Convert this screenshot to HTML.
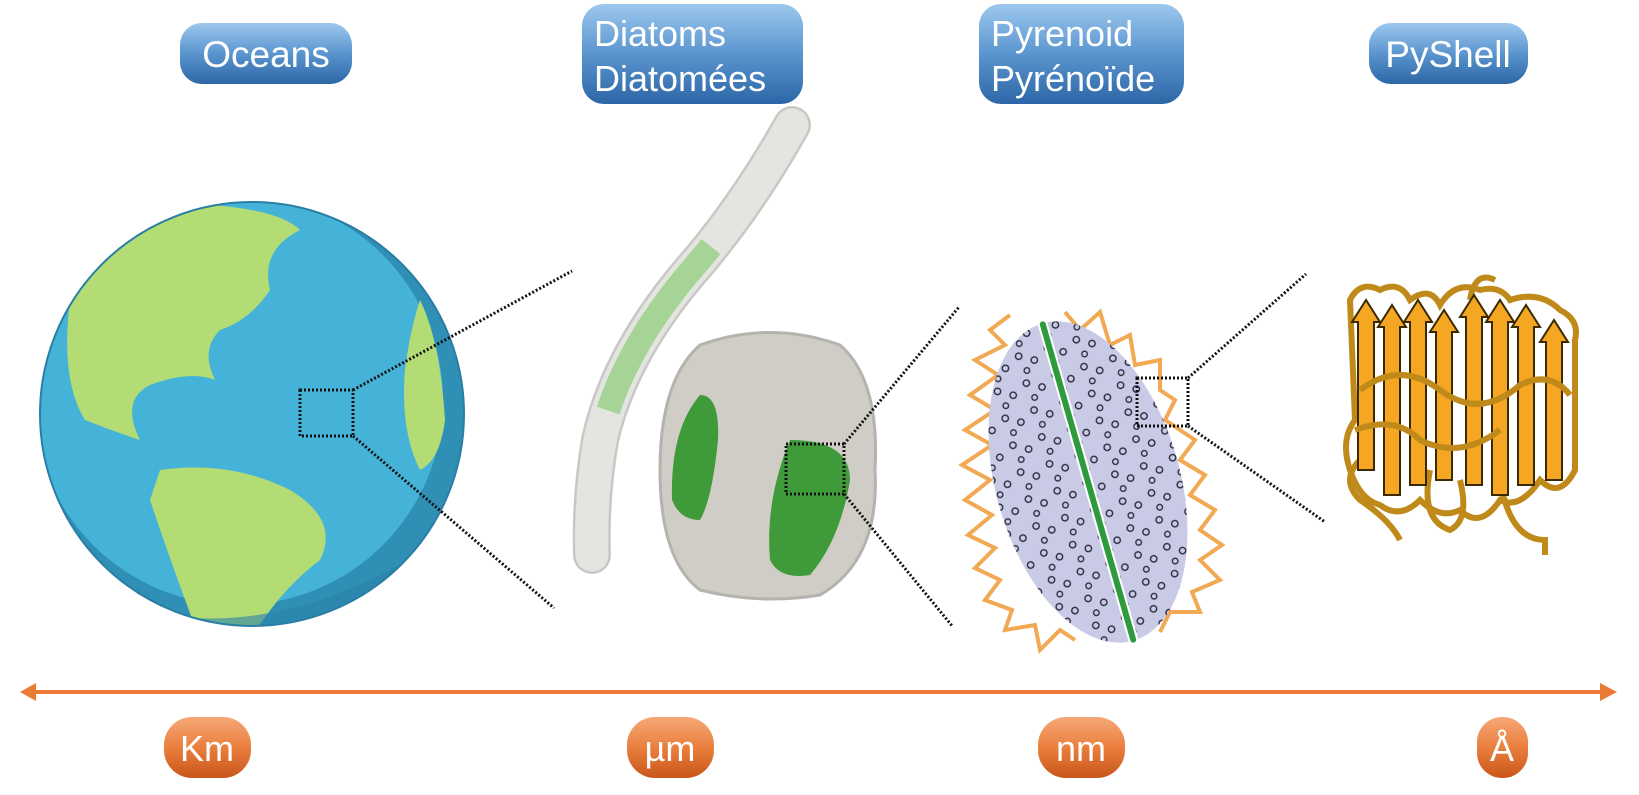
<!DOCTYPE html>
<html><head><meta charset="utf-8"><style>
html,body{margin:0;padding:0;background:#fff;}
svg{display:block;}
text{font-family:"Liberation Sans",sans-serif;fill:#fff;}
</style></head><body>
<svg width="1639" height="795" viewBox="0 0 1639 795" xmlns="http://www.w3.org/2000/svg">
<defs>
<linearGradient id="bl" x1="0" y1="0" x2="0" y2="1"><stop offset="0" stop-color="#9cc8ee"/><stop offset="0.5" stop-color="#5b95cf"/><stop offset="1" stop-color="#2d66a6"/></linearGradient>
<linearGradient id="or" x1="0" y1="0" x2="0" y2="1"><stop offset="0" stop-color="#f6a877"/><stop offset="0.5" stop-color="#ea7f3e"/><stop offset="1" stop-color="#c9561a"/></linearGradient>
<pattern id="dots" width="30" height="28" patternUnits="userSpaceOnUse">
<circle cx="6" cy="6" r="3.2" fill="none" stroke="#2a2a3a" stroke-width="1.4"/>
<circle cx="20" cy="14" r="3.2" fill="none" stroke="#2a2a3a" stroke-width="1.4"/>
<circle cx="10" cy="22" r="2.8" fill="none" stroke="#2a2a3a" stroke-width="1.3"/>
</pattern>
<clipPath id="gc"><circle cx="252" cy="414" r="212"/></clipPath>
</defs>

<rect x="180" y="23" width="172" height="61" rx="22" fill="url(#bl)"/>
<text x="266" y="67" font-size="37" text-anchor="middle">Oceans</text>
<rect x="582" y="4" width="221" height="100" rx="22" fill="url(#bl)"/>
<text x="594" y="46" font-size="36">Diatoms</text>
<text x="594" y="91" font-size="36">Diatomées</text>
<rect x="979" y="4" width="205" height="100" rx="22" fill="url(#bl)"/>
<text x="991" y="46" font-size="36">Pyrenoid</text>
<text x="991" y="91" font-size="36">Pyrénoïde</text>
<rect x="1369" y="23" width="159" height="61" rx="22" fill="url(#bl)"/>
<text x="1448" y="67" font-size="37" text-anchor="middle">PyShell</text>

<circle cx="252" cy="414" r="212" fill="#2f8fb5"/>
<g clip-path="url(#gc)">
<circle cx="238" cy="400" r="205" fill="#45b3d8"/>
<path d="M70 300 Q120 220 210 205 Q280 210 300 230 Q260 250 270 290 Q250 320 220 330 Q200 350 215 380 Q190 370 150 385 Q120 400 140 440 Q110 430 85 420 Q60 380 70 300Z" fill="#b4dc75"/>
<path d="M160 470 Q230 460 290 490 Q340 520 320 560 Q280 590 250 640 L200 640 Q170 560 150 500Z" fill="#b4dc75"/>
<path d="M420 300 Q440 340 445 420 Q440 460 420 470 Q400 430 405 370 Q410 330 420 300Z" fill="#b4dc75"/>
<path d="M60 580 Q250 680 470 520 L470 660 L40 660Z" fill="#2a82aa" opacity="0.6"/>
</g>
<circle cx="252" cy="414" r="212" fill="none" stroke="#2a7ea3" stroke-width="2"/>
<rect x="300" y="390" width="53" height="46" fill="none" stroke="#111" stroke-width="3" stroke-dasharray="2 2"/>
<line x1="353" y1="390" x2="572" y2="271" stroke="#111" stroke-width="3" stroke-dasharray="2 2"/>
<line x1="353" y1="436" x2="554" y2="608" stroke="#111" stroke-width="3" stroke-dasharray="2 2"/>

<path d="M792 125 Q750 200 700 260 Q620 350 600 440 Q590 500 592 555" fill="none" stroke="#c8c8c4" stroke-width="38" stroke-linecap="round"/>
<path d="M792 125 Q750 200 700 260 Q620 350 600 440 Q590 500 592 555" fill="none" stroke="#e4e4e0" stroke-width="33" stroke-linecap="round"/>
<path d="M792 125 Q750 200 700 260 Q620 350 600 440 Q590 500 592 555" pathLength="100" fill="none" stroke="#a6d496" stroke-width="24" stroke-linecap="butt" stroke-dasharray="0 30 40 100"/>

<path d="M700 345 Q770 320 840 345 Q880 380 875 470 Q880 560 820 595 Q760 605 700 590 Q660 560 660 470 Q660 380 700 345Z" fill="#cfcdc6" stroke="#b5b3ad" stroke-width="3"/>
<path d="M700 395 Q720 395 718 440 Q712 500 700 520 Q680 520 672 500 Q670 430 700 395Z" fill="#3f9a3a"/>
<path d="M790 440 Q850 440 850 480 Q840 540 810 575 Q780 580 770 560 Q765 500 790 440Z" fill="#3f9a3a"/>
<rect x="786" y="444" width="58" height="50" fill="none" stroke="#111" stroke-width="3" stroke-dasharray="2 2"/>
<line x1="844" y1="444" x2="959" y2="307" stroke="#111" stroke-width="3" stroke-dasharray="2 2"/>
<line x1="844" y1="494" x2="953" y2="627" stroke="#111" stroke-width="3" stroke-dasharray="2 2"/>

<polyline points="1010,315 990,330 1005,345 975,360 998,375 970,395 995,410 965,430 992,445 962,465 990,480 965,500 992,515 968,535 995,548 975,568 1000,580 985,600 1012,610 1005,630 1035,625 1040,650 1060,630 1075,640" fill="none" stroke="#f0a040" stroke-width="4" opacity="0.9"/>
<polyline points="1065,312 1080,330 1100,312 1110,345 1130,335 1135,365 1160,360 1160,390 1175,400 1165,420 1195,440 1180,460 1205,475 1190,495 1215,510 1200,530 1222,545 1200,560 1220,580 1192,592 1200,612 1170,612 1160,632" fill="none" stroke="#f0a040" stroke-width="4" opacity="0.9"/>
<g transform="rotate(-16 1088 482)">
<ellipse cx="1088" cy="482" rx="92" ry="165" fill="#c8cae6"/>
<ellipse cx="1088" cy="482" rx="92" ry="165" fill="url(#dots)"/>
<line x1="1088" y1="315" x2="1088" y2="649" stroke="#fff" stroke-width="10"/>
<line x1="1088" y1="318" x2="1088" y2="646" stroke="#2e9a3c" stroke-width="6" stroke-linecap="round"/>
</g>
<rect x="1137" y="378" width="51" height="48" fill="none" stroke="#111" stroke-width="3" stroke-dasharray="2 2"/>
<line x1="1188" y1="378" x2="1306" y2="274" stroke="#111" stroke-width="3" stroke-dasharray="2 2"/>
<line x1="1188" y1="426" x2="1325" y2="522" stroke="#111" stroke-width="3" stroke-dasharray="2 2"/>

<g fill="none" stroke="#c08a1a" stroke-width="6">
<path d="M1350 300 Q1360 280 1380 290 Q1400 280 1410 300 Q1430 285 1440 305 Q1455 280 1480 290 Q1500 285 1510 300 Q1540 290 1560 310 Q1580 320 1575 340 L1575 470 Q1560 500 1540 480 Q1520 510 1500 500 Q1480 530 1460 510 Q1440 520 1420 500 Q1400 520 1380 505 Q1360 500 1350 470 Q1340 440 1355 420Z"/>
<path d="M1360 460 Q1340 480 1360 500 Q1390 520 1400 540"/>
<path d="M1430 470 Q1420 520 1450 530 Q1470 520 1460 480"/>
<path d="M1500 480 Q1510 540 1545 540 L1545 555"/>
<path d="M1470 300 Q1475 270 1495 280"/>
</g>
<g stroke="#3a2a00" stroke-width="2" fill="#f5a623">
<path d="M1352 322 l14 -22 14 22 h-6 v148 h-16 v-148Z"/>
<path d="M1378 327 l14 -22 14 22 h-6 v168 h-16 v-168Z"/>
<path d="M1404 322 l14 -22 14 22 h-6 v163 h-16 v-163Z"/>
<path d="M1430 332 l14 -22 14 22 h-6 v148 h-16 v-148Z"/>
<path d="M1460 317 l14 -22 14 22 h-6 v168 h-16 v-168Z"/>
<path d="M1486 322 l14 -22 14 22 h-6 v173 h-16 v-173Z"/>
<path d="M1512 327 l14 -22 14 22 h-6 v158 h-16 v-158Z"/>
<path d="M1540 342 l14 -22 14 22 h-6 v138 h-16 v-138Z"/>
</g>
<g fill="none" stroke="#c08a1a" stroke-width="6">
<path d="M1360 390 Q1400 360 1440 390 Q1480 420 1520 385 Q1550 370 1570 395"/>
<path d="M1355 430 Q1395 415 1420 440 Q1460 460 1500 430"/>
</g>

<line x1="30" y1="692" x2="1605" y2="692" stroke="#ea7a35" stroke-width="4"/>
<path d="M20 692 L36 683 L36 701Z" fill="#ea7a35"/>
<path d="M1617 692 L1600 683 L1600 701Z" fill="#ea7a35"/>

<rect x="164" y="717" width="87" height="61" rx="28" fill="url(#or)"/>
<text x="207" y="761" font-size="36" text-anchor="middle">Km</text>
<rect x="627" y="717" width="87" height="61" rx="28" fill="url(#or)"/>
<text x="670" y="761" font-size="36" text-anchor="middle">µm</text>
<rect x="1038" y="717" width="87" height="61" rx="28" fill="url(#or)"/>
<text x="1081" y="761" font-size="36" text-anchor="middle">nm</text>
<rect x="1477" y="717" width="51" height="61" rx="25" fill="url(#or)"/>
<text x="1502" y="761" font-size="36" text-anchor="middle">Å</text>
</svg>
</body></html>
